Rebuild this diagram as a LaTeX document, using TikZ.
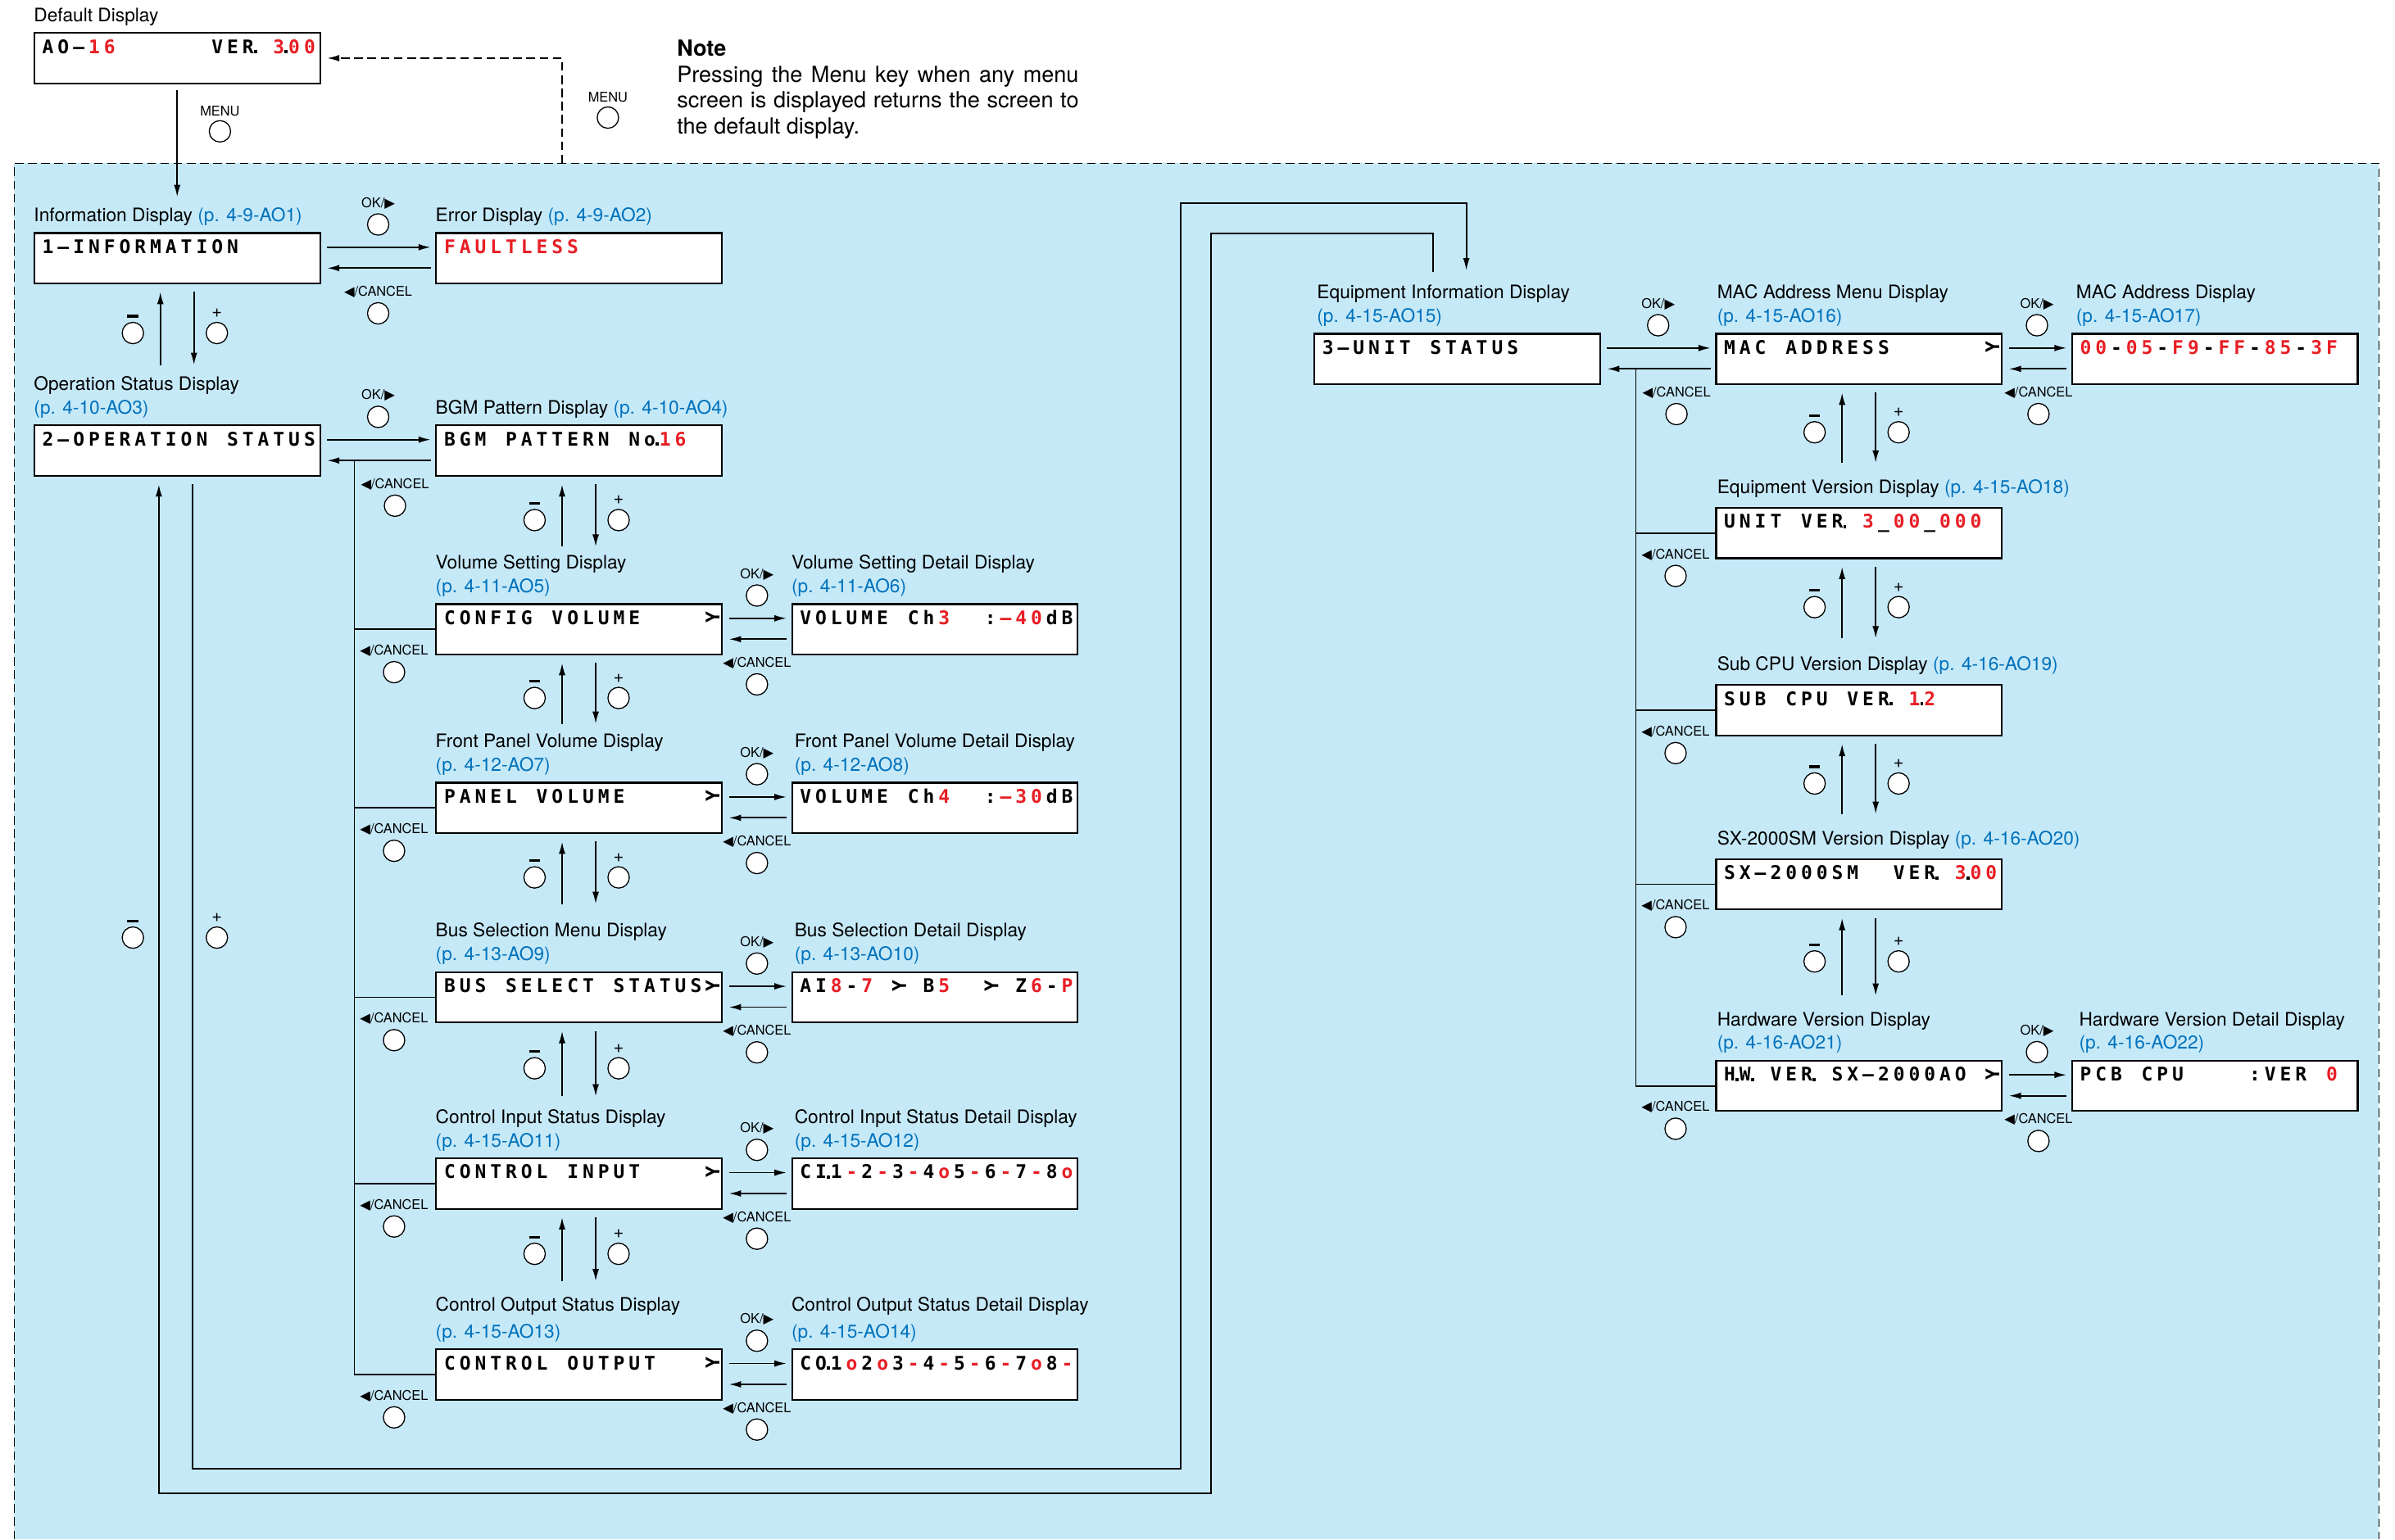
\documentclass[tikz,border=0pt]{standalone}
\usepackage{graphicx}
\usepackage{fontspec}
\setmainfont{TeX Gyre Heros}
\newfontfamily\lcdfont{DejaVu Sans Mono}
\newfontfamily\symfont{DejaVu Sans}
\usetikzlibrary{arrows.meta,calc}

\definecolor{bgblue}{RGB}{198,233,248}
\definecolor{pgblue}{RGB}{0,114,188}
\definecolor{lcdred}{RGB}{232,30,37}

% LCD: one fixed cell per character, | is a blank cell
\newlength\lcdcell
\setlength\lcdcell{8.6pt}
\newcommand\pg[1]{\textcolor{pgblue}{#1}}
\newcommand\lr{\color{lcdred}}
\newcommand\lk{\color{black}}
\newcommand\lcddot{\makebox[0pt][l]{\hspace*{-2.2pt}\rule{0.6mm}{0.65mm}}}
\newcommand\sel{\makebox[\lcdcell][l]{\rotatebox[origin=c]{90}{Y}}}
\newcommand\us{\makebox[\lcdcell][l]{\_}}
\def\endcells{\endcells}
\def\cellsloop#1{%
  \ifx#1\endcells
  \else
    \ifx#1|\hspace*{\lcdcell}%
    \else
      \ifcat\relax\noexpand#1#1%
      \else\makebox[\lcdcell][l]{#1}%
      \fi
    \fi
    \expandafter\cellsloop
  \fi}
\newcommand\scr[1]{\makebox[53mm][l]{\cellsloop#1\endcells}}
\newcommand\rtri{{\symfont ▶}}
\newcommand\ltri{{\symfont ◀}}
\newcommand\mn{\rule{2.2mm}{0.5mm}}

\begin{document}
\begin{tikzpicture}[x=0.3mm, y=-0.3mm, label distance=0.6mm,
  lcd/.style={draw, fill=white, line width=1pt, anchor=north west,
    minimum width=56.1mm, minimum height=9.9mm, inner xsep=1.5mm, inner ysep=0pt,
    text height=4mm, text depth=5.9mm, font=\fontsize{10.5}{12}\lcdfont\bfseries},
  ttl/.style={anchor=south west, inner sep=0pt, align=left, font=\fontsize{10.4}{13.2}\selectfont},
  btn/.style={circle, draw, fill=white, line width=0.6pt, minimum size=4.2mm, inner sep=0pt},
  keylbl/.style={font=\fontsize{7.5}{8.5}\selectfont, inner sep=0.5pt},
  pmlbl/.style={font=\fontsize{10}{11}\selectfont, inner sep=0.5pt},
  arr/.style={-{Latex[length=2.4mm,width=1.3mm]}, line width=0.85pt},
  ln/.style={line width=0.85pt}]
\useasboundingbox (0,0) rectangle (1568,1008);

% menu area
\fill[bgblue] (9.3,107) rectangle (1557.5,1008);
\draw[line width=0.6pt, dash pattern=on 1.7mm off 0.9mm] (9.3,1008) -- (9.3,107) -- (1557.5,107) -- (1557.5,1008);

% displays
\node[lcd] (def) at (22,21) {\scr{AO–\lr16\lk||||||VER\lcddot|\lr3\lk\lcddot\lr00}};
\node[lcd] (info) at (22,152) {\scr{1–INFORMATION}};
\node[lcd] (err) at (285,152) {\scr{\lr FAULTLESS}};
\node[lcd] (opst) at (22,278) {\scr{2–OPERATION|STATUS}};
\node[lcd] (bgm) at (285,278) {\scr{BGM|PATTERN|No\lcddot\lr16}};
\node[lcd] (vol) at (285,395) {\scr{CONFIG|VOLUME||||\sel}};
\node[lcd] (voldet) at (518,395) {\scr{VOLUME|Ch\lr3\lk||:\lr–40\lk dB}};
\node[lcd] (panel) at (285,512) {\scr{PANEL|VOLUME|||||\sel}};
\node[lcd] (paneldet) at (518,512) {\scr{VOLUME|Ch\lr4\lk||:\lr–30\lk dB}};
\node[lcd] (bus) at (285,636) {\scr{BUS|SELECT|STATUS\sel}};
\node[lcd] (busdet) at (518,636) {\scr{AI\lr8\lk-\lr7\lk|\sel|B\lr5\lk||\sel|Z\lr6\lk-\lr P}};
\node[lcd] (cin) at (285,758) {\scr{CONTROL|INPUT||||\sel}};
\node[lcd] (cindet) at (518,758) {\scr{CI\lcddot1\lr-\lk2\lr-\lk3\lr-\lk4\lr o\lk5\lr-\lk6\lr-\lk7\lr-\lk8\lr o}};
\node[lcd] (cout) at (285,883) {\scr{CONTROL|OUTPUT|||\sel}};
\node[lcd] (coutdet) at (518,883) {\scr{CO\lcddot1\lr o\lk2\lr o\lk3\lr-\lk4\lr-\lk5\lr-\lk6\lr-\lk7\lr o\lk8\lr-}};
\node[lcd] (equip) at (860,218) {\scr{3–UNIT|STATUS}};
\node[lcd] (macmenu) at (1123,218) {\scr{MAC|ADDRESS||||||\sel}};
\node[lcd] (mac) at (1356,218) {\scr{\lr00\lk-\lr05\lk-\lr F9\lk-\lr FF\lk-\lr85\lk-\lr3F}};
\node[lcd] (eqver) at (1123,332) {\scr{UNIT|VER\lcddot|\lr3\lk\us\lr00\lk\us\lr000}};
\node[lcd] (subcpu) at (1123,448) {\scr{SUB|CPU|VER\lcddot|\lr1\lk\lcddot\lr2}};
\node[lcd] (sxver) at (1123,562) {\scr{SX–2000SM||VER\lcddot|\lr3\lk\lcddot\lr00}};
\node[lcd] (hwver) at (1123,694) {\scr{H\lcddot W\lcddot|VER\lcddot|SX–2000AO|\sel}};
\node[lcd] (hwdet) at (1356,694) {\scr{PCB|CPU||||:VER|\lr0}};

% titles
\node[ttl] (t-def) at ($(def.north west)+(0,-4)$) {Default Display};
\node[ttl] (t-info) at ($(info.north west)+(0,-4)$) {Information Display \pg{(p. 4-9-AO1)}};
\node[ttl] (t-err) at ($(err.north west)+(0,-4)$) {Error Display \pg{(p. 4-9-AO2)}};
\node[ttl] (t-opst) at ($(opst.north west)+(0,-4)$) {Operation Status Display\\\pg{(p. 4-10-AO3)}};
\node[ttl] (t-bgm) at ($(bgm.north west)+(0,-4)$) {BGM Pattern Display \pg{(p. 4-10-AO4)}};
\node[ttl] (t-vol) at ($(vol.north west)+(0,-4)$) {Volume Setting Display\\\pg{(p. 4-11-AO5)}};
\node[ttl] (t-voldet) at ($(voldet.north west)+(0,-4)$) {Volume Setting Detail Display\\\pg{(p. 4-11-AO6)}};
\node[ttl] (t-panel) at ($(panel.north west)+(0,-4)$) {Front Panel Volume Display\\\pg{(p. 4-12-AO7)}};
\node[ttl] (t-paneldet) at ($(paneldet.north west)+(2,-4)$) {Front Panel Volume Detail Display\\\pg{(p. 4-12-AO8)}};
\node[ttl] (t-bus) at ($(bus.north west)+(0,-4)$) {Bus Selection Menu Display\\\pg{(p. 4-13-AO9)}};
\node[ttl] (t-busdet) at ($(busdet.north west)+(2,-4)$) {Bus Selection Detail Display\\\pg{(p. 4-13-AO10)}};
\node[ttl] (t-cin) at ($(cin.north west)+(0,-4)$) {Control Input Status Display\\\pg{(p. 4-15-AO11)}};
\node[ttl] (t-cindet) at ($(cindet.north west)+(2,-4)$) {Control Input Status Detail Display\\\pg{(p. 4-15-AO12)}};
\node[ttl] (t-cout) at ($(cout.north west)+(0,-4)$) {Control Output Status Display\\[2pt]\pg{(p. 4-15-AO13)}};
\node[ttl] (t-coutdet) at ($(coutdet.north west)+(0,-4)$) {Control Output Status Detail Display\\[2pt]\pg{(p. 4-15-AO14)}};
\node[ttl] (t-equip) at ($(equip.north west)+(2,-4)$) {Equipment Information Display\\\pg{(p. 4-15-AO15)}};
\node[ttl] (t-macmenu) at ($(macmenu.north west)+(1,-4)$) {MAC Address Menu Display\\\pg{(p. 4-15-AO16)}};
\node[ttl] (t-mac) at ($(mac.north west)+(3,-4)$) {MAC Address Display\\\pg{(p. 4-15-AO17)}};
\node[ttl] (t-eqver) at ($(eqver.north west)+(1,-6)$) {Equipment Version Display \pg{(p. 4-15-AO18)}};
\node[ttl] (t-subcpu) at ($(subcpu.north west)+(1,-6)$) {Sub CPU Version Display \pg{(p. 4-16-AO19)}};
\node[ttl] (t-sxver) at ($(sxver.north west)+(1,-6)$) {SX-2000SM Version Display \pg{(p. 4-16-AO20)}};
\node[ttl] (t-hwver) at ($(hwver.north west)+(1,-4)$) {Hardware Version Display\\\pg{(p. 4-16-AO21)}};
\node[ttl] (t-hwdet) at ($(hwdet.north west)+(5,-4)$) {Hardware Version Detail Display\\\pg{(p. 4-16-AO22)}};

\node[anchor=north west, inner sep=0pt, align=justify, text width=78.9mm,
  font=\fontsize{12.4}{14.5}\selectfont] (note) at (443,26)
  {\textbf{Note}\\Pressing the Menu key when any menu screen is displayed returns the screen to the default display.};

% MENU key
\draw[arr] ($(def.south west)+(94,4)$) -- ($(info.north west)+(94,-23)$);
\node[btn, label={[keylbl]above:MENU}] (menu1) at (144,86) {};
\coordinate (ret) at (368,107);
\draw[arr, dash pattern=on 1.7mm off 0.9mm] (ret) |- ($(def.east)+(4,0)$);
\node[btn, label={[keylbl]above:MENU}] (menu2) at (398,77) {};

% OK / CANCEL pairs
\foreach \src/\dst/\ox in {info/err/0, opst/bgm/11, vol/voldet/0, panel/paneldet/0,
    bus/busdet/0, cin/cindet/0, cout/coutdet/0, equip/macmenu/12, macmenu/mac/1, hwver/hwdet/1}{
  \draw[arr] ($(\src.north east)!.29!(\src.south east)+(4,0)$) -- ($(\dst.north west)!.29!(\dst.south west)+(-3,0)$);
  \draw[arr] ($(\dst.north west)!.69!(\dst.south west)+(-3,0)$) -- ($(\src.north east)!.69!(\src.south east)+(4,0)$);
  \node[btn, label={[keylbl]above:OK/\rtri}] (\src-ok) at ($(\src.north east)!.5!(\dst.north west)+(0,-5)$) {};
  \node[btn, label={[keylbl]above:\ltri/CANCEL}] (\src-cn) at ($(\src.south east)!.5!(\dst.south west)+(\ox,19)$) {};
}

% - / + steps
\foreach \boxa/\boxb/\gap in {info/opst/39, bgm/vol/37, vol/panel/38, panel/bus/44, bus/cin/40,
    cin/cout/44, macmenu/eqver/29, eqver/subcpu/30, subcpu/sxver/29, sxver/hwver/42}{
  \draw[arr] ($(\boxb.north west)+(83,-\gap)$) -- ($(\boxa.south west)+(83,5)$);
  \draw[arr] ($(\boxa.south west)+(105,5)$) -- ($(\boxb.north west)+(105,-\gap)$);
  \node[btn, label={[pmlbl]above:\mn}] (\boxa-mn) at ($(\boxa.south west)!.5!(\boxb.north west)+(65,{(11-\gap)/2})$) {};
  \node[btn, label={[pmlbl]above:+}] (\boxa-pl) at ($(\boxa.south west)!.5!(\boxb.north west)+(120,{(11-\gap)/2})$) {};
}

% cancel back to the menu lists
\coordinate (lbus) at ($(bgm.north west)!.69!(bgm.south west)+(-53,0)$);
\draw[ln] (cout.west) -| (lbus);
\foreach \b in {vol, panel, bus, cin}
  \draw[ln] (\b.west) -- (\b.west -| lbus);
\foreach \b in {vol, panel, bus, cin, cout}
  \node[btn, label={[keylbl]above:\ltri/CANCEL}] (\b-bc) at ($(\b.south west)+(-27,11)$) {};

\coordinate (rbus) at ($(macmenu.north west)!.69!(macmenu.south west)+(-52,0)$);
\draw[ln] (hwver.west) -| (rbus);
\foreach \b in {eqver, subcpu, sxver}
  \draw[ln] (\b.west) -- (\b.west -| rbus);
\foreach \b in {eqver, subcpu, sxver, hwver}
  \node[btn, label={[keylbl]above:\ltri/CANCEL}] (\b-bc) at ($(\b.south west)+(-26,11)$) {};

% operation status <-> equipment information
\draw[arr] ($(equip.north west)+(78,-40)$) |- (793,153) |- (104,978) -- ($(opst.south west)+(82,5)$);
\draw[arr] ($(opst.south west)+(104,5)$) |- (773,962) |- (960,133) -- ($(equip.north west)+(100,-41)$);
\node[btn, label={[pmlbl]above:\mn}] (loop-mn) at (87,614) {};
\node[btn, label={[pmlbl]above:+}] (loop-pl) at (142,614) {};
\end{tikzpicture}
\end{document}
